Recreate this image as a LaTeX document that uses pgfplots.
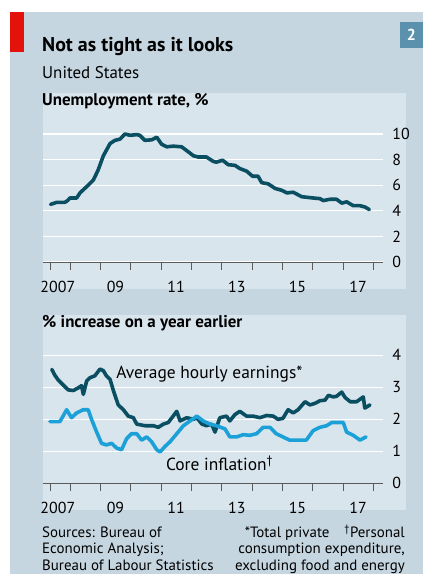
\documentclass[border=0pt]{standalone}
\usepackage{fontspec}
\setmainfont{PT Sans}
\usepackage{pgfplots}
\pgfplotsset{compat=1.18}

\definecolor{outerbg}{RGB}{197,214,225}
\definecolor{panelbg}{RGB}{217,229,237}
\definecolor{darkline}{RGB}{10,78,98}
\definecolor{lightline}{RGB}{28,160,216}
\definecolor{ecored}{RGB}{227,18,11}
\definecolor{numbox}{RGB}{91,145,173}
\definecolor{axisgray}{RGB}{90,90,90}

\newcommand\tickfont{\fontsize{16}{16}\selectfont}

\pgfplotsset{
  eco/.style={
    scale only axis, width=340bp,
    xmin=2007.11, xmax=2018.32,
    clip=false,
    axis x line*=bottom, axis y line*=right,
    x axis line style={-, draw=axisgray, line width=1bp},
    y axis line style={draw=none},
    ytick style={draw=none},
    ymajorgrids, major grid style={white, line width=1.3bp},
    xtick={2007.6,2009.5,2011.5,2013.5,2015.5,2017.5},
    xticklabels={2007,09,11,13,15,17},
    major x tick style={draw=none},
    minor xtick={2007.34,2008,2009,2010,2011,2012,2013,2014,2015,2016,2017,2018},
    minor x tick style={draw=axisgray, line width=0.8bp},
    minor tick length=8bp, tick align=outside,
    xticklabel style={font=\tickfont, anchor=base, inner sep=0pt, yshift=-26bp},
    yticklabel style={font=\tickfont, anchor=west, inner sep=0pt, xshift=5bp},
    /pgf/number format/assume math mode=true,
    every axis plot/.append style={line width=3.6bp, line join=round, line cap=round, mark=none},
  }
}

\begin{document}
\begin{tikzpicture}[x=1bp,y=1bp]
\fill[white] (0,0) rectangle (423,-574);
\fill[outerbg] (10,-12) rectangle (423,-574);
\fill[ecored] (10,-12) rectangle (24,-52);
\fill[numbox] (400,-22) rectangle (423,-48);
\node[white, font=\bfseries\fontsize{16}{16}\selectfont] at (411.5,-35) {2};
\fill[panelbg] (43,-93) rectangle (406,-289);
\fill[panelbg] (43,-315) rectangle (406,-510);

\node[anchor=base west, inner sep=0pt, font=\bfseries\fontsize{20}{20}\selectfont] at (42,-51.5) {Not as tight as it looks};
\node[anchor=base west, inner sep=0pt, font=\fontsize{17}{17}\selectfont] at (42,-79) {United States};
\node[anchor=base west, inner sep=0pt, font=\bfseries\fontsize{17}{17}\selectfont] at (42,-106) {Unemployment rate, \%};
\node[anchor=base west, inner sep=0pt, font=\bfseries\fontsize{17}{17}\selectfont] at (42,-327) {\% increase on a year earlier};

\begin{axis}[eco, at={(43bp,-262bp)}, anchor=south west,
  height=134.4bp, ymin=0, ymax=10.5, ytick={0,2,4,6,8,10}]
\addplot[darkline] coordinates {(2007.36,4.5)(2007.56,4.66)(2007.83,4.66)(2007.92,4.8)(2008.0,5.0)(2008.22,5.0)(2008.33,5.4)(2008.6,6.0)(2008.77,6.4)(2008.93,7.2)(2009.1,8.3)(2009.32,9.25)(2009.48,9.5)(2009.65,9.6)(2009.81,10.0)(2009.98,9.9)(2010.2,9.95)(2010.3,9.9)(2010.47,9.5)(2010.7,9.55)(2010.86,9.75)(2011.02,9.2)(2011.19,9.0)(2011.4,9.05)(2011.68,9.0)(2011.85,8.7)(2012.07,8.3)(2012.23,8.2)(2012.5,8.2)(2012.73,7.85)(2012.83,7.8)(2013.03,7.95)(2013.22,7.6)(2013.44,7.55)(2013.6,7.3)(2013.82,7.1)(2014.02,6.7)(2014.2,6.7)(2014.32,6.2)(2014.54,6.1)(2014.76,5.75)(2014.98,5.6)(2015.15,5.4)(2015.36,5.45)(2015.64,5.1)(2016.02,5.0)(2016.24,4.95)(2016.35,4.8)(2016.57,4.9)(2016.79,4.9)(2016.96,4.6)(2017.12,4.7)(2017.34,4.4)(2017.56,4.4)(2017.72,4.3)(2017.87,4.1)};
\end{axis}

\begin{axis}[eco, at={(43bp,-483.3bp)}, anchor=south west,
  height=137.6bp, ymin=0, ymax=4.3, ytick={0,1,2,3,4}]
\addplot[darkline] coordinates {(2007.4,3.56)(2007.5,3.38)(2007.61,3.23)(2007.78,3.07)(2007.94,2.92)(2008.11,2.9)(2008.27,2.98)(2008.38,3.05)(2008.44,2.78)(2008.55,3.2)(2008.66,3.3)(2008.82,3.36)(2008.99,3.57)(2009.1,3.52)(2009.2,3.36)(2009.32,3.25)(2009.43,2.9)(2009.59,2.45)(2009.76,2.3)(2009.92,2.1)(2010.09,2.05)(2010.2,1.85)(2010.47,1.8)(2010.75,1.8)(2010.91,1.75)(2011.08,1.85)(2011.24,1.9)(2011.4,2.1)(2011.52,2.25)(2011.63,1.95)(2011.85,2.05)(2012.07,2.0)(2012.18,2.05)(2012.35,1.85)(2012.5,1.8)(2012.67,1.85)(2012.78,1.6)(2012.94,2.05)(2013.16,2.1)(2013.27,1.95)(2013.44,2.15)(2013.6,2.25)(2013.82,2.1)(2014.04,2.1)(2014.26,2.05)(2014.48,2.12)(2014.7,2.1)(2014.86,2.0)(2015.02,2.03)(2015.19,2.3)(2015.36,2.2)(2015.52,2.3)(2015.75,2.55)(2015.91,2.45)(2016.08,2.5)(2016.24,2.58)(2016.41,2.6)(2016.52,2.75)(2016.68,2.7)(2016.79,2.72)(2016.96,2.85)(2017.07,2.68)(2017.24,2.55)(2017.45,2.55)(2017.67,2.7)(2017.72,2.35)(2017.89,2.45)};
\addplot[lightline] coordinates {(2007.34,1.93)(2007.67,1.93)(2007.89,2.3)(2008.05,2.05)(2008.22,2.2)(2008.44,2.3)(2008.6,2.3)(2008.71,2.0)(2008.88,1.6)(2009.04,1.25)(2009.2,1.2)(2009.37,1.25)(2009.54,1.1)(2009.7,1.05)(2009.87,1.4)(2010.03,1.55)(2010.2,1.55)(2010.36,1.35)(2010.53,1.45)(2010.69,1.3)(2010.86,1.05)(2010.97,0.98)(2011.13,1.15)(2011.3,1.3)(2011.52,1.55)(2011.74,1.8)(2011.96,1.95)(2012.18,2.1)(2012.39,1.95)(2012.61,1.85)(2012.83,1.8)(2013.11,1.7)(2013.27,1.45)(2013.49,1.45)(2013.71,1.52)(2013.93,1.5)(2014.15,1.55)(2014.37,1.75)(2014.59,1.75)(2014.8,1.55)(2015.02,1.45)(2015.24,1.35)(2015.46,1.35)(2015.79,1.35)(2016.02,1.65)(2016.24,1.75)(2016.46,1.8)(2016.63,1.9)(2016.85,1.9)(2017.01,1.9)(2017.12,1.6)(2017.34,1.5)(2017.56,1.35)(2017.76,1.45)};
\node[anchor=base west, inner sep=0pt, font=\fontsize{17.5}{17.5}\selectfont] at (axis cs:2009.52,3.29) {Average hourly earnings*};
\node[anchor=base west, inner sep=0pt, font=\fontsize{17.5}{17.5}\selectfont] at (axis cs:2011.16,0.39) {Core inflation\textsuperscript{\dag}};
\end{axis}

\node[anchor=base west, inner sep=0pt, align=left, font=\fontsize{15}{16.7}\selectfont] at (42,-570.5) {Sources: Bureau of\\Economic Analysis;\\Bureau of Labour Statistics};
\node[anchor=base east, inner sep=0pt, align=right, font=\fontsize{15}{16.7}\selectfont] at (405,-570.5) {*Total private\quad\textsuperscript{\dag}Personal\\consumption expenditure,\\excluding food and energy};
\end{tikzpicture}
\end{document}
